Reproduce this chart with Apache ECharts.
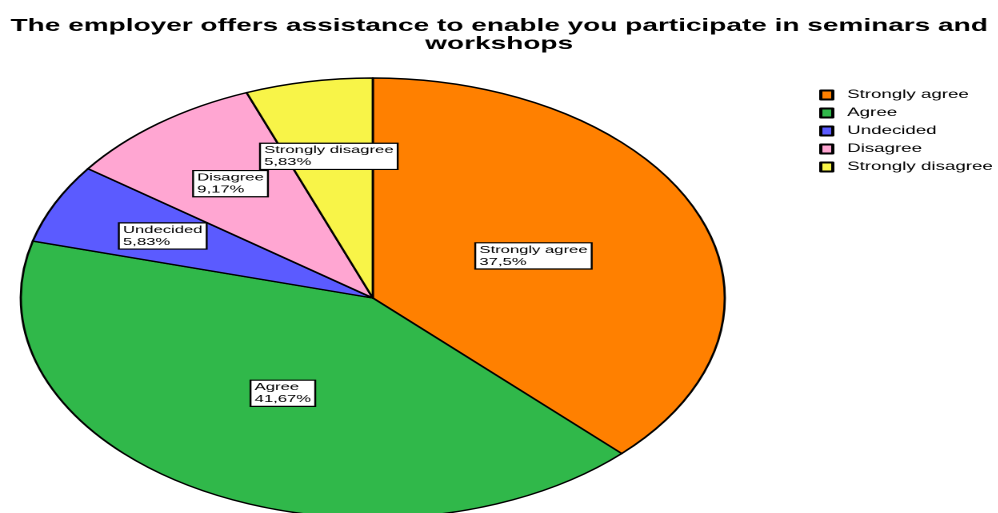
<!DOCTYPE html>
<html>
<head>
<meta charset="utf-8">
<script src="https://cdn.jsdelivr.net/npm/echarts@6/dist/echarts.min.js"></script>
<style>
  html, body { margin: 0; padding: 0; background: #fff; overflow: hidden; }
  /* chart is laid out narrow and stretched horizontally, giving the wide oval pie */
  #chart { width: 624px; height: 513px; transform: scale(1.6, 1); transform-origin: 0 0; }
</style>
</head>
<body>
<div id="chart"></div>
<script>
const titleText = 'The employer offers assistance to enable you participate in seminars and\nworkshops';
const categories = ['Strongly agree', 'Agree', 'Undecided', 'Disagree', 'Strongly disagree'];
const counts = [45, 50, 7, 11, 7];
const colors = ['#FF8000', '#30B84A', '#5B5BFF', '#FFA6D2', '#F8F448'];

const total = counts.reduce((a, b) => a + b, 0);
const CENTER = [233, 298];
const RADIUS = 220;

function pctText(v) {
  let s = (v / total * 100).toFixed(2);
  s = s.replace(/0+$/, '').replace(/\.$/, '');
  return s.replace('.', ',') + '%';
}

// mid angle of each slice, measured clockwise from 12 o'clock
const midAngles = [];
let acc = 0;
counts.forEach(v => {
  midAngles.push((acc + v / 2) / total * 2 * Math.PI);
  acc += v;
});

const chart = echarts.init(document.getElementById('chart'), null, { renderer: 'canvas', devicePixelRatio: 2 });

chart.setOption({
  backgroundColor: '#ffffff',
  animation: false,
  title: {
    text: titleText,
    left: 'center',
    top: 12,
    textStyle: {
      fontFamily: 'Liberation Sans',
      fontWeight: 'bold',
      fontSize: 17.5,
      lineHeight: 18,
      color: '#000'
    }
  },
  legend: {
    orient: 'vertical',
    left: 507,
    top: 84,
    itemWidth: 7.5,
    itemHeight: 9,
    itemGap: 6,
    icon: 'rect',
    data: categories,
    textStyle: {
      fontFamily: 'Liberation Sans',
      fontSize: 11.7,
      lineHeight: 12,
      color: '#000',
      padding: [0, 0, 0, 4]
    }
  },
  series: [{
    type: 'pie',
    center: CENTER,
    radius: [0, RADIUS],
    startAngle: 90,
    clockwise: true,
    avoidLabelOverlap: false,
    silent: true,
    itemStyle: { borderColor: '#000', borderWidth: 1.4 },
    label: {
      show: true,
      position: 'inside',
      formatter: p => p.name + '\n' + pctText(p.value),
      fontFamily: 'Liberation Sans',
      fontSize: 10.4,
      lineHeight: 12,
      color: '#000',
      backgroundColor: '#fff',
      borderColor: '#000',
      borderWidth: 1.2,
      padding: [1, 2, 0, 2],
      align: 'left'
    },
    labelLayout: function (params) {
      const i = params.dataIndex;
      const share = counts[i] / total;
      const f = share > 0.2 ? 0.5 : 0.655;
      const a = midAngles[i];
      const px = CENTER[0] + Math.sin(a) * RADIUS * f;
      const py = CENTER[1] - Math.cos(a) * RADIUS * f;
      return {
        x: px - params.labelRect.width / 2,
        y: py,
        align: 'left',
        verticalAlign: 'middle'
      };
    },
    data: categories.map((c, i) => ({
      name: c,
      value: counts[i],
      itemStyle: { color: colors[i] }
    }))
  }]
});
</script>
</body>
</html>
